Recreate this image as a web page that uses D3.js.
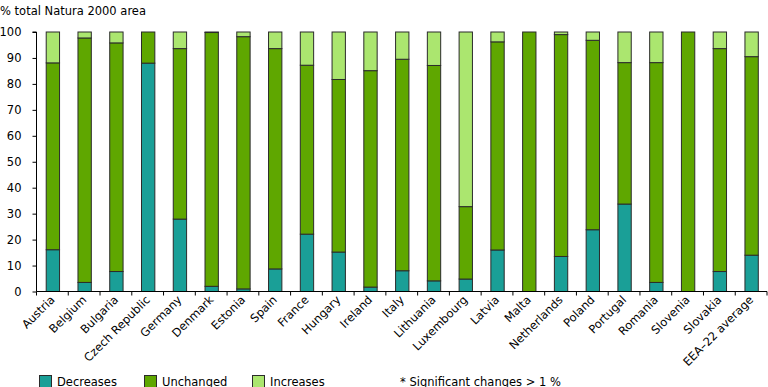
<!DOCTYPE html>
<html><head><meta charset="utf-8">
<script src="https://cdn.jsdelivr.net/npm/d3@7"></script>
<style>body{margin:0;background:#fff}svg{display:block}text{font-family:"DejaVu Sans",Verdana,sans-serif;fill:#000}</style>
</head><body>
<script>
const categories = ["Austria","Belgium","Bulgaria","Czech Republic","Germany","Denmark","Estonia","Spain","France","Hungary","Ireland","Italy","Lithuania","Luxembourg","Latvia","Malta","Netherlands","Poland","Portugal","Romania","Slovenia","Slovakia","EEA\u201322 average"];
const decreases = [16.1,3.5,7.7,88.0,27.9,2.0,1.0,8.7,22.1,15.2,1.7,8.0,4.1,4.8,16.0,0,13.5,23.8,33.7,3.5,0,7.7,14.0];
const unchanged = [72.0,94.2,88.1,12.0,65.7,97.8,97.2,84.9,65.1,66.5,83.4,81.5,83.0,27.9,80.2,100,85.5,73.0,54.5,84.7,100,85.9,76.5];
const increases = [11.9,2.3,4.2,0,6.4,0.2,1.8,6.4,12.8,18.3,14.9,10.5,12.9,67.3,3.8,0,1.0,3.2,11.8,11.8,0,6.4,9.5];
const yTicks = [0,10,20,30,40,50,60,70,80,90,100];
const seriesNames = ["Decreases","Unchanged","Increases"];
const colors = ["#1a9f97","#5fa700","#abe66f"];

const W = 768, H = 387, FS = 11.5;
const x0 = 36.5, x1 = 767;
const svg = d3.select("body").append("svg").attr("width", W).attr("height", H);
const x = d3.scaleBand().domain(categories).range([x0, x1]).paddingInner(0.58).paddingOuter(0.29);
const y = d3.scaleLinear().domain([0,100]).range([291.5, 32]);

const rows = categories.map((c,i)=>({cat:c, Decreases:decreases[i], Unchanged:unchanged[i], Increases:increases[i]}));
const stack = d3.stack().keys(seriesNames)(rows);

svg.append("text").attr("x",0).attr("y",15).attr("font-size",FS).text("% total Natura 2000 area");

const g = svg.append("g");
stack.forEach((s,si)=>{
  g.append("g").selectAll("rect").data(s.filter(d=>d[1]-d[0]>0)).join("rect")
    .attr("x", d=>x(d.data.cat)+0.5)
    .attr("y", d=>y(d[1]))
    .attr("width", x.bandwidth())
    .attr("height", d=>y(d[0])-y(d[1]))
    .attr("fill", colors[si])
    .attr("stroke", "#2b2b2b")
    .attr("stroke-width", 1);
});

// y axis
const ya = svg.append("g").attr("transform",`translate(${x0},0)`)
  .call(d3.axisLeft(y).tickValues(yTicks).tickSize(4).tickPadding(11).tickFormat(d3.format("d")));
ya.select(".domain").attr("stroke","#000").attr("d", `M-4,${y(100)}H0V${y(0)}`);
ya.selectAll("text").attr("font-size",FS).attr("font-family","DejaVu Sans, Verdana, sans-serif").attr("fill","#000");
ya.selectAll("line").attr("stroke","#000");

// x axis
const xa = svg.append("g").attr("transform",`translate(0,${y(0)})`)
  .call(d3.axisBottom(x).tickSize(0).tickPadding(0));
xa.select(".domain").attr("stroke","#000").attr("d",`M${x0},0H${x1}`);
xa.selectAll(".tick text").attr("font-size",FS).attr("font-family","DejaVu Sans, Verdana, sans-serif").attr("fill","#000")
  .attr("text-anchor","end").attr("dy",0).attr("transform","translate(3,9) rotate(-45)");
const step = x.step();
const bounds = d3.range(categories.length+1).map(i=> x0 + i*step);
xa.selectAll("line.sep").data(bounds).join("line").attr("class","sep")
  .attr("x1",d=>d).attr("x2",d=>d).attr("y1",0).attr("y2",4).attr("stroke","#000");

// legend
const legX = [39, 144, 252];
const leg = svg.append("g");
seriesNames.forEach((n,i)=>{
  leg.append("rect").attr("x",legX[i]+0.5).attr("y",375.5).attr("width",12).attr("height",12)
    .attr("fill",colors[i]).attr("stroke","#2b2b2b");
  leg.append("text").attr("x",legX[i]+18).attr("y",385.5).attr("font-size",FS).text(n);
});
svg.append("text").attr("x",400).attr("y",385.5).attr("font-size",FS).text("* Significant changes > 1 %");
</script>
</body></html>
